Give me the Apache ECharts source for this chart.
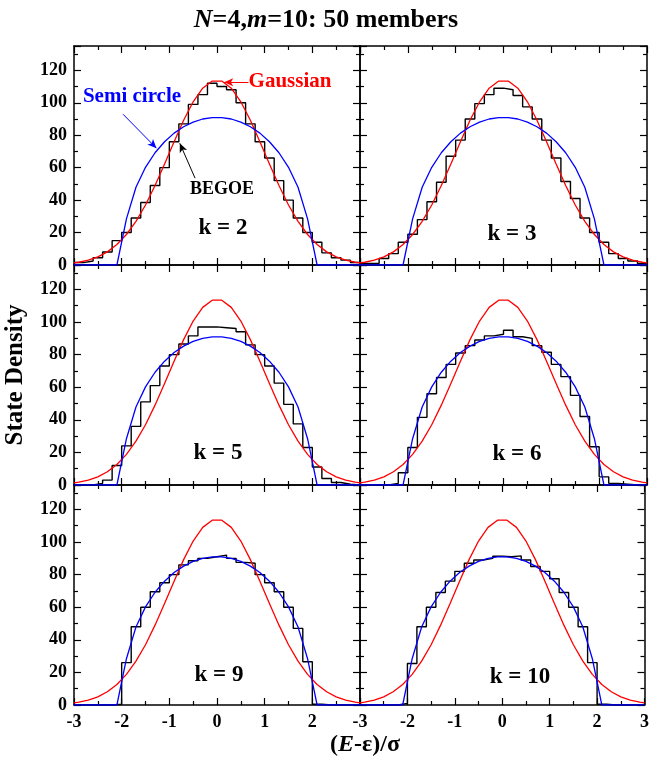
<!DOCTYPE html>
<html><head><meta charset="utf-8">
<script src="https://cdn.jsdelivr.net/npm/echarts@6/dist/echarts.min.js"></script>
<style>html,body{margin:0;padding:0;background:#fff}#c{width:652px;height:760px}</style>
</head><body><div id="c"></div>
<script>
// ---------- data ----------
const binStart = -3, binWidth = 0.2, binCount = 30;
const panelLabels = ['k = 2', 'k = 3', 'k = 5', 'k = 6', 'k = 9', 'k = 10'];
const histK2  = [1.5, 2.5, 4.5, 8, 15, 20, 29, 38.5, 49, 60, 76, 87, 99, 105, 112, 110, 108, 100, 87, 76, 66, 52, 40, 29, 20, 14, 7.5, 4.5, 3, 1.5];
const histK3  = [1, 1, 4, 7, 14, 19, 28, 39, 51, 67, 77, 90, 99.5, 105, 109, 108, 104.5, 97.5, 90, 77, 66, 51.5, 41, 29, 20, 14, 7, 4, 2.5, 1];
const histK5  = [0, 0, 1, 3, 12, 24, 36, 51, 61, 73, 80, 86.5, 91.5, 97, 97, 96.5, 96, 94, 86, 80, 73, 62.5, 49.5, 37.5, 23, 11, 4, 1.5, 0.5, 0];
const histK6  = [0, 0, 0, 1, 7.5, 23, 41.5, 56, 66, 74, 81, 85.5, 89, 91.5, 92.5, 95, 91, 90, 85.5, 81.5, 74, 66.5, 55, 42, 23.5, 5, 1, 0.5, 0, 0];
const histK9  = [0, 0, 0, 0, 0.5, 26, 48, 60, 69.5, 75, 80, 86, 88.5, 90, 91, 92, 90, 87.5, 87, 80, 75, 69.5, 60, 47, 26.5, 0.5, 0, 0, 0, 0];
const histK10 = [0, 0, 0, 0, 1, 25.5, 48, 60, 69, 76, 82, 87, 89, 90, 91.3, 91, 91.5, 89, 85, 82, 77.5, 69, 60, 48, 26, 0.5, 0, 0, 0, 0];
const histograms = [histK2, histK3, histK5, histK6, histK9, histK10];

const curveX = [-3, -2.9, -2.7, -2.5, -2.3, -2.1, -1.9, -1.7, -1.5, -1.3, -1.1, -0.9, -0.7, -0.5, -0.3, -0.1,
                0.1, 0.3, 0.5, 0.7, 0.9, 1.1, 1.3, 1.5, 1.7, 1.9, 2.1, 2.3, 2.5, 2.7, 2.9, 3];
const gaussian = [1.3, 1.7, 3.0, 5.0, 8.1, 12.6, 18.8, 26.9, 37.0, 49.0, 62.3, 76.0, 89.2, 100.6, 109.0, 113.4,
                  113.4, 109.0, 100.6, 89.2, 76.0, 62.3, 49.0, 37.0, 26.9, 18.8, 12.6, 8.1, 5.0, 3.0, 1.7, 1.3];
const semicircle = [0, 0, 0, 0, 0, 0, 28.4, 47.9, 60.2, 69.2, 76.0, 81.3, 85.2, 88.1, 90.0, 90.9,
                    90.9, 90.0, 88.1, 85.2, 81.3, 76.0, 69.2, 60.2, 47.9, 28.4, 0, 0, 0, 0, 0, 0];

const xMin = -3, xMax = 3, xInterval = 1;
const yMin = 0, yMax = 135, yInterval = 20;

// ---------- layout ----------
const FONT = '"Liberation Serif","Times New Roman",serif';
const colLeft = [74, 360], colWidth = [286, 287];
const rowTop = [46, 265, 485], rowHeight = [219, 220, 220];
const kPos = [[223, 228], [512, 234], [218, 453], [517, 454], [219, 675], [520, 677]];

const grids = [], xAxes = [], yAxes = [], series = [];
for (let i = 0; i < 6; i++) {
  const r = Math.floor(i / 2), c = i % 2;
  grids.push({left: colLeft[c], top: rowTop[r], width: colWidth[c], height: rowHeight[r], containLabel: false});
}
const tickCommon = {
  axisLine: {show: true, onZero: false, lineStyle: {color: '#000', width: 1.5}},
  axisTick: {show: true, inside: true, length: 7, lineStyle: {color: '#000', width: 1.2}},
  minorTick: {show: true, splitNumber: 2, length: 4, lineStyle: {color: '#000', width: 1.2}},
  splitLine: {show: false}
};
const labelStyle = {color: '#000', fontFamily: FONT, fontWeight: 'bold', fontSize: 18};
// bottom x axes
for (let i = 0; i < 6; i++) {
  const r = Math.floor(i / 2), c = i % 2;
  xAxes.push(Object.assign({
    type: 'value', gridIndex: i, position: 'bottom', min: xMin, max: xMax, interval: xInterval,
    axisLabel: Object.assign({show: r === 2, margin: 8, showMaxLabel: c === 1, showMinLabel: true}, labelStyle)
  }, tickCommon));
}
// top x axes
for (let i = 0; i < 6; i++) {
  xAxes.push(Object.assign({
    type: 'value', gridIndex: i, position: 'top', min: xMin, max: xMax, interval: xInterval,
    axisLabel: {show: false}
  }, tickCommon));
}
// left y axes
for (let i = 0; i < 6; i++) {
  const c = i % 2;
  yAxes.push(Object.assign({
    type: 'value', gridIndex: i, position: 'left', min: yMin, max: yMax, interval: yInterval,
    axisLabel: Object.assign({show: c === 0, margin: 7, showMaxLabel: false}, labelStyle)
  }, tickCommon));
}
// right y axes
for (let i = 0; i < 6; i++) {
  yAxes.push(Object.assign({
    type: 'value', gridIndex: i, position: 'right', min: yMin, max: yMax, interval: yInterval,
    axisLabel: {show: false}
  }, tickCommon));
}

const gaussData = curveX.map((x, j) => [x, gaussian[j]]);
const semiData = curveX.map((x, j) => [x, semicircle[j]]);

for (let i = 0; i < 6; i++) {
  const h = histograms[i];
  const hd = h.map((v, j) => [+(binStart + j * binWidth).toFixed(2), v]);
  hd.push([+(binStart + binCount * binWidth).toFixed(2), h[h.length - 1]]);
  const histSeries = {
    type: 'line', xAxisIndex: i, yAxisIndex: i, data: hd, step: 'end', symbol: 'none',
    lineStyle: {color: '#000', width: 1.4}, z: 3
  };
  const gSeries = {
    type: 'line', xAxisIndex: i, yAxisIndex: i, data: gaussData, symbol: 'none',
    lineStyle: {color: '#ff0000', width: 1.3}, z: 4
  };
  const sSeries = {
    type: 'line', xAxisIndex: i, yAxisIndex: i, data: semiData, symbol: 'none',
    lineStyle: {color: '#0000ff', width: 1.3}, z: 5
  };
  if (i === 0) {
    const ml = (color, from, to) => ({
      silent: true, symbol: ['none', 'arrow'], symbolSize: [6, 9], label: {show: false},
      lineStyle: {color: color, width: 1, type: 'solid'},
      data: [[{coord: from}, {coord: to}]]
    });
    sSeries.markLine = ml('#0000ff', [-1.97, 92.9], [-1.27, 72]);
    gSeries.markLine = ml('#ff0000', [0.66, 112.6], [0.15, 112.6]);
    histSeries.markLine = ml('#000', [-0.46, 53.5], [-0.78, 75]);
  }
  series.push(histSeries, gSeries, sSeries);
}

const graphics = [];
for (let i = 0; i < 6; i++) {
  graphics.push({type: 'text', x: kPos[i][0], y: kPos[i][1], z: 10,
    style: {text: panelLabels[i], fill: '#000', font: 'bold 23px ' + FONT, textAlign: 'center', textVerticalAlign: 'middle'}});
}
graphics.push({type: 'text', x: 132, y: 97, z: 10,
  style: {text: 'Semi circle', fill: '#0000ff', font: 'bold 21px ' + FONT, textAlign: 'center', textVerticalAlign: 'middle'}});
graphics.push({type: 'text', x: 290, y: 82, z: 10,
  style: {text: 'Gaussian', fill: '#ff0000', font: 'bold 21px ' + FONT, textAlign: 'center', textVerticalAlign: 'middle'}});
graphics.push({type: 'text', x: 222, y: 189, z: 10,
  style: {text: 'BEGOE', fill: '#000', font: 'bold 18px ' + FONT, textAlign: 'center', textVerticalAlign: 'middle'}});
graphics.push({type: 'text', x: 16, y: 375, rotation: Math.PI / 2, z: 10,
  style: {text: 'State Density', fill: '#000', font: 'bold 25px ' + FONT, textAlign: 'center', textVerticalAlign: 'middle'}});
graphics.push({type: 'text', x: 365, y: 745, z: 10,
  style: {text: '({i|E}-ε)/σ', fill: '#000', font: 'bold 24px ' + FONT, textAlign: 'center', textVerticalAlign: 'middle',
    rich: {i: {fontStyle: 'italic', fontWeight: 'bold', fontSize: 24, fontFamily: FONT, fill: '#000'}}}});

const chart = echarts.init(document.getElementById('c'), null, {renderer: 'canvas'});
chart.setOption({
  animation: false,
  backgroundColor: '#fff',
  title: {
    text: '{i|N}{n|=4,}{i|m}{n|=10: 50 members}', left: 'center', top: 2,
    textStyle: {rich: {
      i: {fontFamily: FONT, fontWeight: 'bold', fontStyle: 'italic', fontSize: 26, color: '#000'},
      n: {fontFamily: FONT, fontWeight: 'bold', fontSize: 26, color: '#000'}
    }}
  },
  grid: grids, xAxis: xAxes, yAxis: yAxes, series: series, graphic: graphics
});
</script></body></html>
